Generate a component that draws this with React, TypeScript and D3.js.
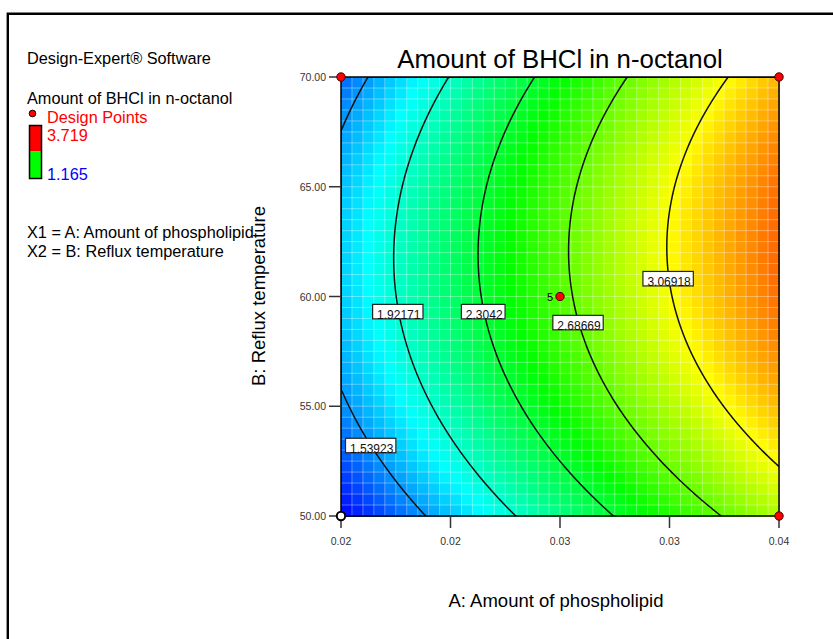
import React from 'react';
import * as d3 from 'd3';

// Factor ranges (actual units)
const A_RANGE = [0.02, 0.04];
const B_RANGE = [50, 70];

// Axis ticks
const X_TICKS = [0.02, 0.025, 0.03, 0.035, 0.04];
const X_TICK_LABELS = ['0.02', '0.02', '0.03', '0.03', '0.04'];
const Y_TICKS = [50, 55, 60, 65, 70];
const Y_TICK_LABELS = ['50.00', '55.00', '60.00', '65.00', '70.00'];

// Quadratic response model in coded units
const MODEL_TERMS = ['Intercept', 'A', 'B', 'AB', 'A²', 'B²'];
const MODEL_COEFS = [2.639, 0.89, 0.16, 0.03, -0.085, -0.38];

// Response range (legend) and colour ramp
const RESPONSE_MAX = 3.719;
const RESPONSE_MIN = 1.165;
const COLOR_STOPS = ['#0000ff', '#00ffff', '#00ff00', '#ffff00', '#ff0000'];

// Contour levels and the B value at which each level is labelled
const CONTOUR_LEVELS = [1.53923, 1.92171, 2.3042, 2.68669, 3.06918];
const CONTOUR_LABELS = ['1.53923', '1.92171', '2.3042', '2.68669', '3.06918'];
const LABEL_AT_B = [53.2, 59.3, 59.3, 58.8, 60.8];

// Design points
const DESIGN_A = [0.02, 0.04, 0.04, 0.03, 0.02];
const DESIGN_B = [70, 70, 50, 60, 50];
const DESIGN_RUNS = [1, 1, 1, 5, 1];
const DESIGN_ABOVE = [true, true, true, true, false];

const FONT = '"Liberation Sans", Arial, Helvetica, sans-serif';

function numWidth(s: string, size: number) {
  let w = 0;
  for (const ch of s) w += ch === '.' ? 0.278 : 0.556;
  return w * size;
}

export default function App() {
  const W = 833;
  const H = 639;
  const plot = { x: 341, y: 77, w: 438, h: 439 };

  const xScale = d3.scaleLinear().domain(A_RANGE).range([plot.x, plot.x + plot.w]);
  const yScale = d3.scaleLinear().domain(B_RANGE).range([plot.y + plot.h, plot.y]);
  const codeA = d3.scaleLinear().domain(A_RANGE).range([-1, 1]);
  const codeB = d3.scaleLinear().domain(B_RANGE).range([-1, 1]);

  const model = (a: number, b: number) => {
    const x = codeA(a);
    const y = codeB(b);
    const [c0, c1, c2, c3, c4, c5] = MODEL_COEFS;
    return c0 + c1 * x + c2 * y + c3 * x * y + c4 * x * x + c5 * y * y;
  };

  const color = d3
    .scaleLinear<string>()
    .domain(COLOR_STOPS.map((_, i) => RESPONSE_MIN + (i * (RESPONSE_MAX - RESPONSE_MIN)) / (COLOR_STOPS.length - 1)))
    .range(COLOR_STOPS)
    .interpolate(d3.interpolateRgb)
    .clamp(true);

  // Shaded grid cells
  const NC = 40;
  const cw = plot.w / NC;
  const ch = plot.h / NC;
  const cells: { x: number; y: number; fill: string }[] = [];
  for (let j = 0; j < NC; j++) {
    for (let i = 0; i < NC; i++) {
      const px = plot.x + (i + 0.5) * cw;
      const py = plot.y + (j + 0.5) * ch;
      cells.push({ x: plot.x + i * cw, y: plot.y + j * ch, fill: color(model(xScale.invert(px), yScale.invert(py))) });
    }
  }

  // Contour lines
  const NX = 220;
  const NY = 220;
  const values: number[] = new Array(NX * NY);
  for (let j = 0; j < NY; j++) {
    for (let i = 0; i < NX; i++) {
      const px = plot.x + (i / (NX - 1)) * plot.w;
      const py = plot.y + (j / (NY - 1)) * plot.h;
      values[j * NX + i] = model(xScale.invert(px), yScale.invert(py));
    }
  }
  const contours = d3.contours().size([NX, NY]).thresholds(CONTOUR_LEVELS)(values);
  const line = d3.line<number[]>()
    .x((p) => plot.x + (p[0] / (NX - 1)) * plot.w)
    .y((p) => plot.y + (p[1] / (NY - 1)) * plot.h);
  const contourPaths = contours.map((c) =>
    c.coordinates.map((poly) => poly.map((ring) => line(ring as number[][]) + 'Z').join('')).join('')
  );

  // Label positions: solve model(a, b) = level along A for the given B
  const labels = CONTOUR_LEVELS.map((lvl, k) => {
    const b = LABEL_AT_B[k];
    let lo = A_RANGE[0];
    let hi = A_RANGE[1];
    for (let it = 0; it < 60; it++) {
      const mid = (lo + hi) / 2;
      if (model(mid, b) < lvl) lo = mid;
      else hi = mid;
    }
    return { x: xScale((lo + hi) / 2), y: yScale(b), text: CONTOUR_LABELS[k] };
  });

  const gridLines = d3.range(1, NC);

  return (
    <svg
      width={W}
      height={H}
      style={{ position: 'absolute', left: 0, top: 0, background: '#fff' }}
      fontFamily={FONT}
    >
      <defs>
        <clipPath id="plot-clip">
          <rect x={plot.x} y={plot.y} width={plot.w} height={plot.h} />
        </clipPath>
      </defs>

      {/* page frame */}
      <path d={`M7.8,${H + 5}V13.8H${W + 5}`} fill="none" stroke="#000" strokeWidth={2.4} />

      {/* legend */}
      <g fontSize={16.3}>
        <text x={27} y={64}>Design-Expert® Software</text>
        <text x={27} y={104}>Amount of BHCl in n-octanol</text>
        <circle cx={32.5} cy={113.5} r={3.3} fill="#ff0000" stroke="#000" strokeWidth={1} />
        <text x={47} y={123} fill="#ff0000">Design Points</text>
        <rect x={29.5} y={125.5} width={12} height={26} fill="#ff0000" />
        <rect x={29.5} y={151.5} width={12} height={27} fill="#00ff00" />
        <rect x={29.5} y={125.5} width={12} height={53} fill="none" stroke="#000" strokeWidth={1.5} />
        <text x={47} y={141} fill="#ff0000">3.719</text>
        <text x={47} y={180} fill="#0000ff">1.165</text>
        <text x={27} y={238}>X1 = A: Amount of phospholipid</text>
        <text x={27} y={256.5}>X2 = B: Reflux temperature</text>
      </g>

      {/* title */}
      <text x={560} y={68} fontSize={25.8} textAnchor="middle">Amount of BHCl in n-octanol</text>

      {/* shaded surface */}
      <g shapeRendering="crispEdges">
        {cells.map((c, i) => (
          <rect key={i} x={c.x} y={c.y} width={cw + 0.6} height={ch + 0.6} fill={c.fill} />
        ))}
      </g>
      <g stroke="#fff" strokeOpacity={0.35} strokeWidth={1}>
        {gridLines.map((k) => (
          <line key={'v' + k} x1={plot.x + k * cw} x2={plot.x + k * cw} y1={plot.y} y2={plot.y + plot.h} />
        ))}
        {gridLines.map((k) => (
          <line key={'h' + k} x1={plot.x} x2={plot.x + plot.w} y1={plot.y + k * ch} y2={plot.y + k * ch} />
        ))}
      </g>

      {/* contours */}
      <g clipPath="url(#plot-clip)" fill="none" stroke="#111" strokeWidth={1.5}>
        {contourPaths.map((d, i) => (
          <path key={i} d={d} />
        ))}
      </g>

      {/* contour labels */}
      <g fontSize={12}>
        {labels.map((l, i) => {
          const tw = numWidth(l.text, 12);
          const bw = tw + 7;
          return (
            <g key={i}>
              <rect x={l.x - bw / 2} y={l.y - 7.5} width={bw} height={14.5} fill="#fff" stroke="#222" strokeWidth={1.2} />
              <text x={l.x + 1} y={l.y + 7} textAnchor="middle" fill="#111">{l.text}</text>
            </g>
          );
        })}
      </g>

      {/* plot border */}
      <rect x={plot.x} y={plot.y} width={plot.w} height={plot.h} fill="none" stroke="#000" strokeWidth={1.5} />

      {/* axis ticks */}
      <g stroke="#333" strokeWidth={1.5}>
        {X_TICKS.map((t, i) => (
          <line key={i} x1={xScale(t)} x2={xScale(t)} y1={plot.y + plot.h} y2={plot.y + plot.h + 12} />
        ))}
        {Y_TICKS.map((t, i) => (
          <line key={i} x1={plot.x - 12} x2={plot.x} y1={yScale(t)} y2={yScale(t)} />
        ))}
      </g>
      <g fontSize={10.5} fill="#333">
        {X_TICKS.map((t, i) => (
          <text key={i} x={xScale(t)} y={545} textAnchor="middle">{X_TICK_LABELS[i]}</text>
        ))}
        {Y_TICKS.map((t, i) => (
          <text key={i} x={326} y={yScale(t) + 4} textAnchor="end">{Y_TICK_LABELS[i]}</text>
        ))}
      </g>

      {/* axis titles */}
      <text x={556} y={607} fontSize={18.5} textAnchor="middle">A: Amount of phospholipid</text>
      <text transform={`translate(265,296) rotate(-90)`} fontSize={18.5} textAnchor="middle">B: Reflux temperature</text>

      {/* design points */}
      {DESIGN_A.map((a, i) => (
        <g key={i}>
          <circle
            cx={xScale(a)}
            cy={yScale(DESIGN_B[i])}
            r={4.2}
            fill={DESIGN_ABOVE[i] ? '#ff0000' : '#ffffff'}
            stroke={DESIGN_ABOVE[i] ? '#400' : '#000'}
            strokeWidth={DESIGN_ABOVE[i] ? 1 : 2}
          />
          {DESIGN_RUNS[i] > 1 && (
            <text x={xScale(a) - 7} y={yScale(DESIGN_B[i]) + 4} fontSize={11} textAnchor="end">{DESIGN_RUNS[i]}</text>
          )}
        </g>
      ))}
    </svg>
  );
}
